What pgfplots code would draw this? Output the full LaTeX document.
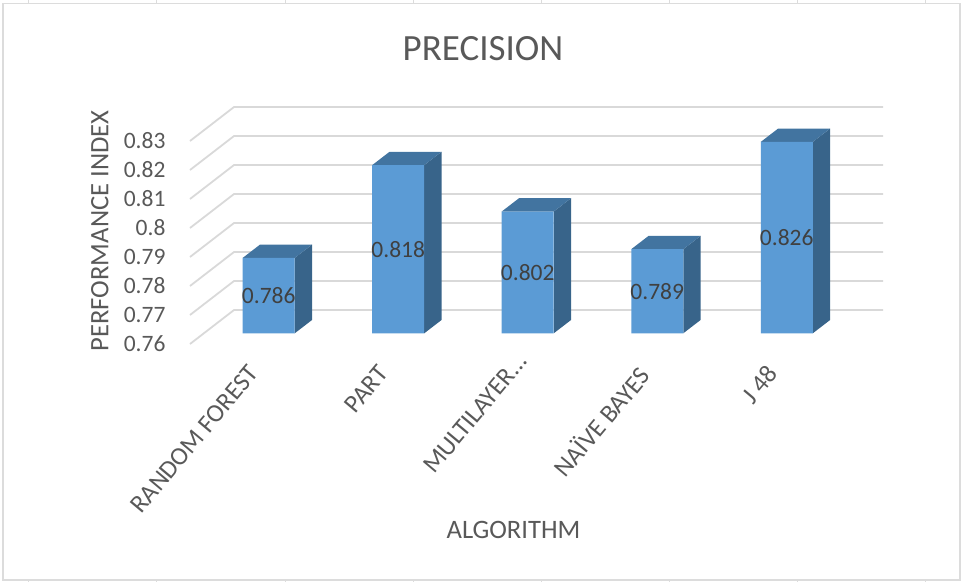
\documentclass[border=0pt]{standalone}
\usepackage{pgfplots}
\pgfplotsset{compat=1.18}
\usepackage{fontspec}
\setmainfont{Carlito}
\definecolor{barfront}{HTML}{5B9BD5}
\definecolor{bartop}{HTML}{4274A0}
\definecolor{barside}{HTML}{38648A}
\definecolor{gridc}{HTML}{D9D9D9}
\definecolor{txt}{HTML}{595959}
\definecolor{lab}{HTML}{404040}
\definecolor{frame}{HTML}{DCDCDC}
\begin{document}
\begin{tikzpicture}
\path[use as bounding box] (-190pt,-248.7pt) rectangle (774pt,333.3pt);
\begin{axis}[
  at={(0pt,0pt)}, anchor=south west,
  scale only axis, width=693pt, height=203pt,
  xmin=-0.6077, xmax=4.743, ymin=0.76, ymax=0.83,
  clip=false,
  axis line style={draw=none},
  tick style={draw=none},
  xtick={0,1,2,3,4},
  xticklabels={RANDOM FOREST,PART,MULTILAYER.{}.{}.\hspace*{-16pt},NAÏVE BAYES,J 48},
  ytick={0.76,0.77,0.78,0.79,0.8,0.81,0.82,0.83},
  scaled y ticks=false,
  yticklabel style={/pgf/number format/fixed,/pgf/number format/precision=2,
    /pgf/number format/assume math mode=true,
    font=\fontsize{23.5}{24}\selectfont, text=txt, anchor=east, xshift=-21pt, yshift=-10.5pt},
  xticklabel style={font=\fontsize{25.5}{26}\selectfont, text=txt, rotate=50, anchor=north east, xshift=-33.5pt, yshift=0.5pt},
  title={PRECISION},
  title style={at={(axis description cs:0.4228,1.371)}, anchor=center, font=\fontsize{37}{39}\selectfont, text=txt},
  xlabel={ALGORITHM},
  xlabel style={at={(axis description cs:0.4668,-0.969)}, anchor=center, font=\fontsize{26.6}{28}\selectfont, text=txt},
  ylabel={PERFORMANCE INDEX},
  ylabel style={at={(axis description cs:-0.13,0.504)}, anchor=center, font=\fontsize{26.6}{28}\selectfont, text=txt},
  grid line/.style={gridc, line width=1.8pt, line join=round},
]
% floor and back wall gridlines
\addplot[grid line] coordinates {(-0.6077,0.75631) (-0.2680,0.76803) (4.743,0.76803)};
\addplot[grid line] coordinates {(-0.6077,0.76631) (-0.2680,0.77803) (4.743,0.77803)};
\addplot[grid line] coordinates {(-0.6077,0.77631) (-0.2680,0.78803) (4.743,0.78803)};
\addplot[grid line] coordinates {(-0.6077,0.78631) (-0.2680,0.79803) (4.743,0.79803)};
\addplot[grid line] coordinates {(-0.6077,0.79631) (-0.2680,0.80803) (4.743,0.80803)};
\addplot[grid line] coordinates {(-0.6077,0.80631) (-0.2680,0.81803) (4.743,0.81803)};
\addplot[grid line] coordinates {(-0.6077,0.81631) (-0.2680,0.82803) (4.743,0.82803)};
\addplot[grid line] coordinates {(-0.6077,0.82631) (-0.2680,0.83803) (4.743,0.83803)};
% side faces
\addplot[barside, fill=barside, draw=none] coordinates {(0.2008,0.76) (0.3344,0.76459) (0.3344,0.79059) (0.2008,0.786)} -- cycle;
\addplot[barside, fill=barside, draw=none] coordinates {(1.2008,0.76) (1.3344,0.76459) (1.3344,0.82259) (1.2008,0.818)} -- cycle;
\addplot[barside, fill=barside, draw=none] coordinates {(2.2008,0.76) (2.3344,0.76459) (2.3344,0.80659) (2.2008,0.802)} -- cycle;
\addplot[barside, fill=barside, draw=none] coordinates {(3.2008,0.76) (3.3344,0.76459) (3.3344,0.79359) (3.2008,0.789)} -- cycle;
\addplot[barside, fill=barside, draw=none] coordinates {(4.2008,0.76) (4.3344,0.76459) (4.3344,0.83059) (4.2008,0.826)} -- cycle;
% top faces
\addplot[bartop, fill=bartop, draw=none] coordinates {(-0.2008,0.786) (0.2008,0.786) (0.3344,0.79059) (-0.0672,0.79059)} -- cycle;
\addplot[bartop, fill=bartop, draw=none] coordinates {(0.7992,0.818) (1.2008,0.818) (1.3344,0.82259) (0.9328,0.82259)} -- cycle;
\addplot[bartop, fill=bartop, draw=none] coordinates {(1.7992,0.802) (2.2008,0.802) (2.3344,0.80659) (1.9328,0.80659)} -- cycle;
\addplot[bartop, fill=bartop, draw=none] coordinates {(2.7992,0.789) (3.2008,0.789) (3.3344,0.79359) (2.9328,0.79359)} -- cycle;
\addplot[bartop, fill=bartop, draw=none] coordinates {(3.7992,0.826) (4.2008,0.826) (4.3344,0.83059) (3.9328,0.83059)} -- cycle;
% front faces
\addplot[ybar, bar width=52pt, bar shift=0pt, fill=barfront, draw=none] coordinates {(0,0.786) (1,0.818) (2,0.802) (3,0.789) (4,0.826)};
% value labels, centred on the front faces
\node[font=\fontsize{23.5}{24}\selectfont, text=lab] at (axis cs:0,0.773) {0.786};
\node[font=\fontsize{23.5}{24}\selectfont, text=lab] at (axis cs:1,0.789) {0.818};
\node[font=\fontsize{23.5}{24}\selectfont, text=lab] at (axis cs:2,0.781) {0.802};
\node[font=\fontsize{23.5}{24}\selectfont, text=lab] at (axis cs:3,0.7745) {0.789};
\node[font=\fontsize{23.5}{24}\selectfont, text=lab] at (axis cs:4,0.793) {0.826};
\end{axis}
% chart frame with page ruler ticks at the edges
\draw[frame, line width=1.5pt] (-187pt,-246.7pt) rectangle (770pt,329.8pt);
\foreach \x in {-161,-33,95,223,351,479,607,735} {
  \draw[frame, line width=1pt] (\x pt,329.8pt) -- (\x pt,333.3pt);
  \draw[frame, line width=1pt] (\x pt,-246.7pt) -- (\x pt,-248.7pt);
}
\end{tikzpicture}
\end{document}
